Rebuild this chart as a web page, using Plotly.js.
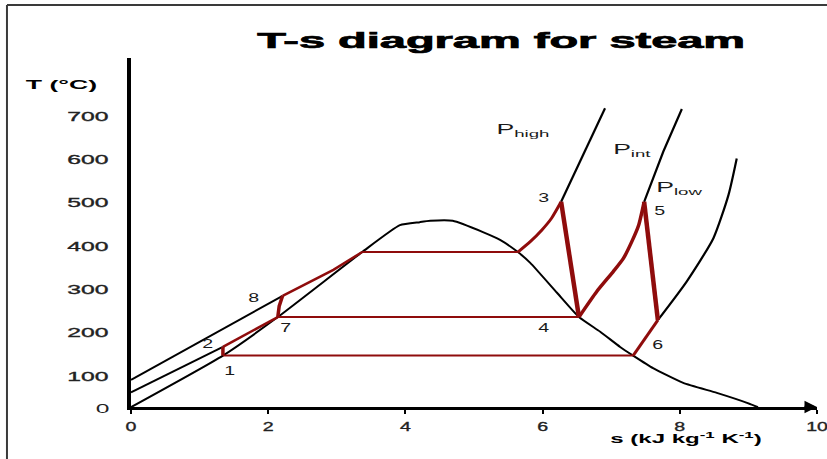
<!DOCTYPE html>
<html>
<head>
<meta charset="utf-8">
<script src="https://cdn.plot.ly/plotly-3.0.1.min.js"></script>
<style>
  html, body { margin: 0; padding: 0; background: #ffffff; }
  #chart { width: 827px; height: 459px; }
  /* heavier lettering */
  #chart text.gtitle { stroke: #000; stroke-width: 0.7px; }
  #chart g.xtick text, #chart g.ytick text { stroke: #222; stroke-width: 0.35px; }
</style>
</head>
<body>
<div id="chart"></div>
<script>
// Saturation dome of water: entropy s (kJ kg-1 K-1) and temperature T (°C)
const domeS = [0, 1.34, 2.14, 3.37, 3.92, 4.21, 4.36, 4.69, 5.13, 5.38, 5.64, 5.82, 6.21, 6.53, 6.84, 7.13, 7.32, 7.61, 8.05, 8.54, 8.98, 9.14];
const domeT = [28, 147, 236, 386, 448, 455, 458, 458, 432, 414, 386, 361, 292, 236, 202, 167, 147, 118, 84, 61, 38, 28];

// Compressed-liquid parts of the high and intermediate isobars
const pHighLiqS = [0, 2.21];
const pHighLiqT = [91, 285];
const pIntLiqS = [0, 1.34];
const pIntLiqT = [62, 167];

// Superheated parts of the three isobars above the cycle
const pHighVapS = [6.27, 6.55, 6.91];
const pHighVapT = [502, 595, 718];
const pIntVapS = [7.48, 7.76, 8.03];
const pIntVapT = [502, 618, 716];
const pLowVapS = [7.68, 8.10, 8.49, 8.71, 8.83];
const pLowVapT = [229, 318, 418, 518, 602];

// Cycle processes (numbers are the state points)
const pump12S = [1.34, 1.34];          const pump12T = [147, 167];
const heat27S = [1.34, 2.14];          const heat27T = [167, 236];
const pump78S = [2.14, 2.16, 2.21];    const pump78T = [236, 261, 285];
const heat8S = [2.21, 2.95, 3.37];     const heat8T = [285, 345, 386];
const boilS = [3.37, 5.64];            const boilT = [386, 386];
const superS = [5.64, 5.82, 5.99, 6.13, 6.27];
const superT = [386, 410, 437, 464, 502];
const exp34S = [6.27, 6.53];           const exp34T = [502, 236];
const bleedS = [2.14, 6.53];           const bleedT = [236, 236];
const reheatS = [6.53, 6.79, 7.03, 7.18, 7.30, 7.40, 7.48];
const reheatT = [236, 295, 341, 372, 410, 448, 502];
const exp56S = [7.48, 7.68];           const exp56T = [502, 229];
const cool6S = [7.68, 7.32];           const cool6T = [229, 147];
const condS = [7.32, 1.34];            const condT = [147, 147];

// Axis ticks
const sTicks = [0, 2, 4, 6, 8, 10];
const sTickText = ['0', '2', '4', '6', '8', '10'];
const tTicks = [100, 200, 300, 400, 500, 600, 700];
const tTickText = ['100', '200', '300', '400', '500', '600', '700'];

// State-point labels
const stateText = ['1', '2', '3', '4', '5', '6', '7', '8'];
const stateS = [1.44, 1.12, 6.01, 6.01, 7.71, 7.68, 2.25, 1.78];
const stateT = [112, 176, 512, 213, 482, 172, 213, 282];

// Isobar labels
const isobarText = ['P<sub>high</sub>', 'P<sub>int</sub>', 'P<sub>low</sub>'];
const isobarS = [5.71, 7.30, 8.00];
const isobarT = [668, 622, 534];

const RED = '#8f0c0c';
const BLACK = '#000000';
const FONT = 'Liberation Sans, Arial, sans-serif';

function seg(x, y, color, width, smooth) {
  const line = { color: color, width: width };
  if (smooth) { line.shape = 'spline'; line.smoothing = smooth; }
  return {
    x: x, y: y, type: 'scatter', mode: 'lines', line: line,
    hoverinfo: 'skip', showlegend: false, cliponaxis: false
  };
}

const traces = [
  seg(domeS, domeT, BLACK, 2, 0.5),
  seg(pHighLiqS, pHighLiqT, BLACK, 2),
  seg(pIntLiqS, pIntLiqT, BLACK, 2),
  seg(pHighVapS, pHighVapT, BLACK, 2.2),
  seg(pIntVapS, pIntVapT, BLACK, 2.2),
  seg(pLowVapS, pLowVapT, BLACK, 2.2, 0.6),
  seg(boilS, boilT, RED, 2),
  seg(bleedS, bleedT, RED, 2),
  seg(condS, condT, RED, 2),
  seg(pump12S, pump12T, RED, 3.5),
  seg(heat27S, heat27T, RED, 2.5),
  seg(pump78S, pump78T, RED, 3.5),
  seg(heat8S, heat8T, RED, 2.5),
  seg(superS, superT, RED, 3, 0.6),
  seg(reheatS, reheatT, RED, 3.5, 0.6),
  seg(cool6S, cool6T, RED, 3),
  seg(exp34S, exp34T, RED, 4.5),
  seg(exp56S, exp56T, RED, 4.5)
];

// Horizontal stretch applied to each annotation's text, by index
const annStretch = [];
const annotations = [];

function label(x, y, xref, yref, text, font, factor) {
  annotations.push({
    x: x, y: y, xref: xref, yref: yref, text: text, showarrow: false,
    xanchor: 'center', yanchor: 'middle', font: font
  });
  annStretch.push(factor);
}

stateText.forEach(function (t, i) {
  label(stateS[i], stateT[i], 'x', 'y', t, { family: FONT, size: 13, color: '#1a1a1a' }, 1.5);
});
isobarText.forEach(function (t, i) {
  label(isobarS[i], isobarT[i], 'x', 'y', t, { family: FONT, size: 14, color: '#1a1a1a' }, 1.9);
});
// Axis titles and the origin label
label(-0.102, 0.923, 'paper', 'paper', 'T (°C)',
  { family: FONT, size: 13, color: '#000', weight: 'bold' }, 2.05);
label(0.809, -0.089, 'paper', 'paper', 's (kJ kg<sup>-1</sup> K<sup>-1</sup>)',
  { family: FONT, size: 13, color: '#000', weight: 'bold' }, 1.85);
label(-0.041, -0.003, 'paper', 'paper', '0', { family: FONT, size: 13, color: '#222' }, 1.9);

// Arrow head at the end of the entropy axis
annotations.push({
  x: 10, y: 0, xref: 'x', yref: 'paper', ax: -14, ay: 0, text: '',
  showarrow: true, arrowhead: 2, arrowsize: 1, arrowwidth: 2.5, arrowcolor: '#000'
});
annStretch.push(1);

const layout = {
  width: 827, height: 459,
  margin: { l: 131, r: 10, t: 58, b: 52 },
  paper_bgcolor: '#ffffff', plot_bgcolor: '#ffffff',
  title: {
    text: 'T-s diagram for steam',
    font: { family: FONT, size: 22, color: '#000', weight: 'bold' },
    xref: 'container', yref: 'container', x: 0.606, xanchor: 'center', y: 0.913, yanchor: 'middle'
  },
  xaxis: {
    range: [0, 10], showgrid: false, zeroline: false,
    showline: true, linecolor: '#000', linewidth: 3,
    ticks: 'outside', ticklen: 4, tickwidth: 2, tickcolor: '#000',
    tickvals: sTicks, ticktext: sTickText, ticklabelstandoff: 1,
    tickfont: { family: FONT, size: 13, color: '#222' }
  },
  yaxis: {
    range: [28.4, 833.8], showgrid: false, zeroline: false,
    showline: true, linecolor: '#000', linewidth: 4,
    ticks: '', tickvals: tTicks, ticktext: tTickText, ticklabelstandoff: 16,
    tickfont: { family: FONT, size: 13, color: '#222' }
  },
  annotations: annotations,
  shapes: [
    { type: 'line', xref: 'paper', yref: 'paper', x0: -0.1808, x1: 1.02, y0: 1.152, y1: 1.152,
      line: { color: '#3a3a3a', width: 2 } },
    { type: 'line', xref: 'paper', yref: 'paper', x0: -0.1808, x1: -0.1808, y0: 1.152, y1: -0.16,
      line: { color: '#3a3a3a', width: 2 } }
  ],
  showlegend: false
};

// Widen glyphs horizontally (the lettering is drawn extended)
function stretch(el, factor, target) {
  const w = el.getComputedTextLength();
  if (!w) return;
  const len = target ? target : w * factor;
  el.setAttribute('textLength', len.toFixed(1));
  el.setAttribute('lengthAdjust', 'spacingAndGlyphs');
}

const gd = document.getElementById('chart');
Plotly.newPlot(gd, traces, layout, { staticPlot: true, displayModeBar: false }).then(function () {
  gd.querySelectorAll('text.gtitle').forEach(function (el) { stretch(el, 1, 488); });
  gd.querySelectorAll('g.xtick text').forEach(function (el) { stretch(el, 1.5); });
  gd.querySelectorAll('g.ytick text').forEach(function (el) { stretch(el, 1.9); });
  gd.querySelectorAll('g.annotation').forEach(function (g) {
    const idx = +g.getAttribute('data-index');
    const t = g.querySelector('text.annotation-text');
    if (t && annStretch[idx] && annStretch[idx] !== 1) stretch(t, annStretch[idx]);
  });
});
</script>
</body>
</html>
